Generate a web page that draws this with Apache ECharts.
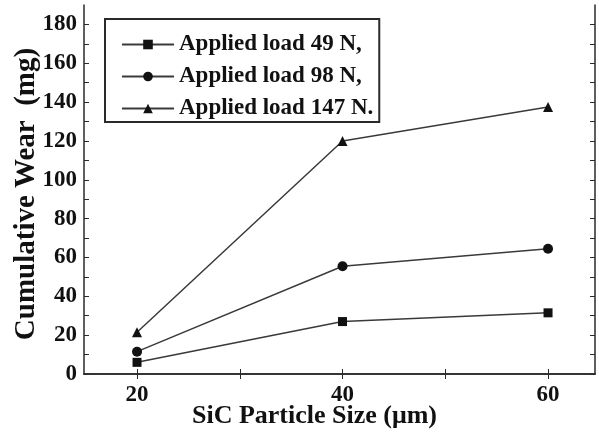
<!DOCTYPE html>
<html>
<head>
<meta charset="utf-8">
<script src="https://cdn.jsdelivr.net/npm/echarts@6/dist/echarts.min.js"></script>
<style>
  html, body { margin: 0; padding: 0; background: #fff; }
  #wear_chart { width: 599px; height: 434px; }
</style>
</head>
<body>
<div id="wear_chart"></div>
<script type="text/javascript">
    // particle size (um) and cumulative wear (mg)
    var particleSize = [20, 40, 60];
    var load49 = [6, 27, 31.5];
    var load98 = [11.5, 55.5, 64.5];
    var load147 = [21.5, 120, 137.5];
    var seriesNames = ['Applied load 49 N,', 'Applied load 98 N,', 'Applied load 147 N.'];

    var xTickLabels = [20, 40, 60];
    var xTicks = [20, 30, 40, 50, 60];
    var yTickLabels = [0, 20, 40, 60, 80, 100, 120, 140, 160, 180];
    var yTicks = [0, 10, 20, 30, 40, 50, 60, 70, 80, 90, 100, 110, 120, 130, 140, 150, 160, 170, 180];

    var serifFont = '"Liberation Serif", "Times New Roman", serif';
    var ink = '#2a2a2a';

    function pairs(values) {
        return particleSize.map(function (x, i) { return [x, values[i]]; });
    }

    function lineSeries(name, values, symbol, size) {
        return {
            name: name,
            type: 'line',
            data: pairs(values),
            symbol: symbol,
            symbolSize: size,
            lineStyle: { color: '#3a3a3a', width: 1.5 },
            itemStyle: { color: '#111' },
            xAxisIndex: 0,
            yAxisIndex: 0
        };
    }

    var frameAxisLine = { show: true, lineStyle: { color: ink, width: 1.5 } };

    var chart = echarts.init(document.getElementById('wear_chart'));
    chart.setOption({
        animation: false,
        grid: { left: 84, right: 4, top: 5, bottom: 60, containLabel: false, outerBoundsMode: 'none' },
        legend: {
            orient: 'vertical',
            left: 105,
            top: 19,
            width: 274,
            padding: [14, 6, 2, 16],
            itemGap: 9,
            itemWidth: 52,
            itemHeight: 12,
            borderColor: ink,
            borderWidth: 2,
            textStyle: {
                fontFamily: serifFont,
                fontWeight: 'bold',
                fontSize: 23,
                lineHeight: 20,
                color: '#111'
            },
            data: seriesNames
        },
        xAxis: [{
            type: 'value',
            min: 14.84,
            max: 64.57,
            name: 'SiC Particle Size (\u03bcm)',
            nameLocation: 'middle',
            nameGap: 29,
            nameMoveOverlap: false,
            nameTextStyle: {
                fontFamily: serifFont, fontWeight: 'bold', fontSize: 26, color: '#111',
                padding: [0, 50, 0, 0]
            },
            axisLine: frameAxisLine,
            axisTick: { inside: true, length: 5, lineStyle: { color: ink }, customValues: xTicks },
            axisLabel: {
                customValues: xTickLabels,
                margin: 10,
                fontFamily: serifFont, fontWeight: 'bold', fontSize: 23, color: '#111'
            },
            splitLine: { show: false }
        }, {
            type: 'value',
            position: 'top',
            min: 14.84,
            max: 64.57,
            axisLine: frameAxisLine,
            axisTick: { inside: true, length: 5, lineStyle: { color: ink }, customValues: xTicks },
            axisLabel: { show: false },
            splitLine: { show: false }
        }],
        yAxis: [{
            type: 'value',
            min: 0,
            max: 190,
            name: 'Cumulative Wear  (mg)',
            nameLocation: 'middle',
            nameGap: 43,
            nameMoveOverlap: false,
            nameTextStyle: {
                fontFamily: serifFont, fontWeight: 'bold', fontSize: 29, color: '#111',
                padding: [0, 9, 0, 0]
            },
            axisLine: frameAxisLine,
            axisTick: { inside: true, length: 5, lineStyle: { color: ink }, customValues: yTicks },
            axisLabel: {
                customValues: yTickLabels,
                margin: 7,
                fontFamily: serifFont, fontWeight: 'bold', fontSize: 23, color: '#111'
            },
            splitLine: { show: false }
        }, {
            type: 'value',
            position: 'right',
            min: 0,
            max: 190,
            axisLine: frameAxisLine,
            axisTick: { inside: true, length: 5, lineStyle: { color: ink }, customValues: yTicks },
            axisLabel: { show: false },
            splitLine: { show: false }
        }],
        series: [
            lineSeries(seriesNames[0], load49, 'rect', 9),
            lineSeries(seriesNames[1], load98, 'circle', 10),
            lineSeries(seriesNames[2], load147, 'triangle', 10)
        ]
    });
</script>
</body>
</html>
